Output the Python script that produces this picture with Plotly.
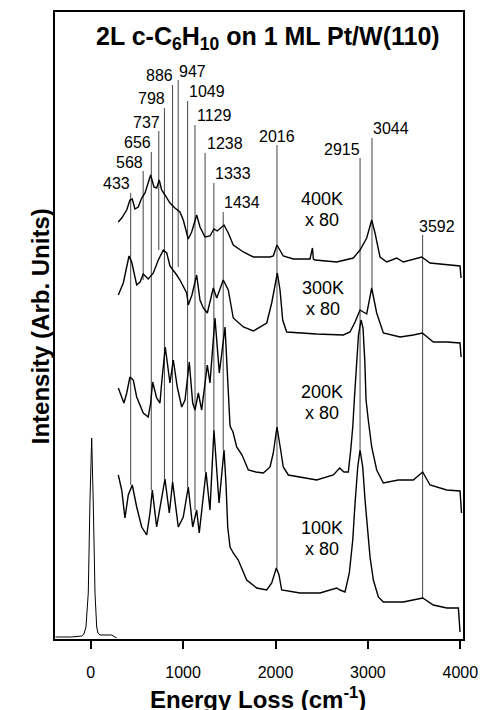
import plotly.graph_objects as go

# ---------------- data (energy loss in cm^-1, intensity in arb. units) ----------------
elastic_wn = [-380, -206, -97, -73, -51, -26, -8, 11, 28, 47, 65, 79, 101, 227, 281]
elastic_int = [1, 1, 2, 4, 11, 45, 135, 200, 135, 45, 11, 5, 3, 3, 0]

wn_400 = [299, 336, 390, 425, 450, 479, 515, 552, 588, 623, 649, 685, 714, 742, 768, 804, 858, 912, 966,
          1002, 1056, 1093, 1147, 1183, 1237, 1291, 1334, 1370, 1443, 1489, 1543, 1652, 1760, 1941, 1976,
          2016, 2084, 2193, 2373, 2400, 2410, 2428, 2662, 2842, 2915, 2987, 3041, 3077, 3131, 3204, 3312,
          3383, 3582, 3672, 3853, 3997, 4008]
int_400 = [416, 420, 428, 438, 439, 429, 431, 440, 445, 455, 463, 451, 450, 458, 448, 443, 435, 430, 426,
           418, 399, 406, 423, 411, 401, 402, 409, 407, 413, 405, 393, 386, 381, 381, 382,
           393, 382, 379, 379, 390, 379, 378, 376, 380, 388, 400, 418, 405, 381, 376, 380,
           376, 381, 375, 373, 372, 360]

wn_300 = [299, 353, 415, 444, 498, 534, 569, 623, 678, 732, 786, 823, 858, 894, 931, 966, 1039, 1056, 1096,
          1147, 1183, 1219, 1262, 1327, 1364, 1435, 1489, 1543, 1652, 1760, 1905, 1959, 1995, 2020, 2049,
          2078, 2121, 2265, 2446, 2734, 2806, 2861, 2915, 2950, 2987, 3041, 3095, 3167, 3348, 3492, 3589,
          3708, 3853, 3997, 4008]
int_300 = [343, 355, 382, 376, 353, 356, 364, 359, 365, 378, 388, 385, 372, 368, 363, 358, 345, 333, 343,
           363, 338, 330, 325, 350, 340, 358, 348, 320, 311, 307, 315, 335, 355, 365, 348,
           318, 306, 305, 304, 303, 306, 316, 328, 326, 324, 350, 325, 305, 301, 303, 305,
           296, 296, 295, 281]

wn_200 = [299, 360, 390, 425, 461, 498, 569, 623, 649, 671, 714, 750, 768, 807, 858, 894, 937, 985, 1021,
          1067, 1104, 1129, 1165, 1201, 1262, 1291, 1345, 1392, 1454, 1508, 1540, 1580, 1638, 1706, 1789,
          1868, 1905, 1941, 1976, 2016, 2056, 2084, 2139, 2446, 2626, 2695, 2741, 2788, 2814, 2836, 2853,
          2877, 2898, 2926, 2947, 2966, 2980, 3004, 3041, 3095, 3167, 3329, 3492, 3542, 3593, 3672, 3853,
          3997, 4013]
int_200 = [250, 235, 245, 261, 258, 241, 225, 221, 235, 256, 240, 235, 255, 291, 255, 278, 251, 231, 238,
           276, 235, 228, 245, 228, 273, 255, 320, 265, 311, 212, 206, 191, 183, 168, 166,
           165, 168, 171, 185, 211, 188, 171, 163, 158, 163, 170, 166, 166, 188, 211, 238,
           278, 303, 318, 310, 278, 238, 218, 191, 168, 155, 158, 158, 162, 166, 153, 148,
           147, 125]

wn_100 = [299, 336, 371, 407, 450, 498, 552, 606, 642, 667, 714, 768, 804, 851, 887, 948, 1002, 1056, 1104,
          1147, 1175, 1248, 1291, 1334, 1389, 1443, 1464, 1483, 1508, 1543, 1597, 1688, 1797, 1905, 1959,
          2009, 2038, 2067, 2265, 2482, 2662, 2698, 2752, 2799, 2836, 2861, 2890, 2915, 2944, 2969, 2994,
          3023, 3059, 3113, 3167, 3383, 3488, 3593, 3708, 3853, 3979, 3997]
int_100 = [163, 148, 120, 143, 153, 131, 111, 103, 125, 148, 111, 138, 159, 125, 156, 111, 121, 151, 111,
           128, 105, 166, 128, 208, 135, 188, 155, 111, 91, 85, 78, 58, 50, 48, 55,
           70, 63, 48, 45, 45, 50, 48, 46, 65, 98, 135, 171, 188, 171, 138, 111,
           81, 58, 41, 36, 36, 38, 40, 33, 30, 30, 6]

# peak assignment markers (cm^-1) and the vertical extent of each guide line
peak_wn = [433, 568, 656, 737, 798, 886, 947, 1049, 1129, 1238, 1333, 1434, 2016, 2915, 3044, 3592]
peak_top = [445, 467, 486, 507, 530, 553, 558, 537, 513, 485, 455, 426, 493, 480, 500, 403]
peak_bottom = [153, 358, 148, 388, 159, 156, 371, 151, 128, 166, 208, 188, 70, 188, 350, 40]
peak_labels = [str(v) for v in peak_wn]

temp_labels = ["400K", "300K", "200K", "100K"]
scale_label = "x 80"
x_ticks = [0, 1000, 2000, 3000, 4000]

# ---------------- layout positions for text ----------------
label_x = [281, 425, 504, 599, 660, 750, 1100, 1255, 1345, 1454, 1543, 1634, 2020, 2717, 3247, 3745]
label_y = [455, 476, 496, 516, 540, 563, 567, 547, 523, 495, 465, 436, 502, 489, 510, 412]
temp_x = [2500, 2517, 2500, 2500]
temp_y = [439, 350, 246, 110]
scale_y = [418, 329, 225, 89]

FONT = "Liberation Sans, Arial, Helvetica, sans-serif"

fig = go.Figure()

# guide lines
gx, gy = [], []
for w, t, b in zip(peak_wn, peak_top, peak_bottom):
    gx += [w, w, None]
    gy += [t, b, None]
fig.add_trace(go.Scatter(x=gx, y=gy, mode="lines", line=dict(color="#444444", width=1),
                         hoverinfo="skip", showlegend=False))

fig.add_trace(go.Scatter(x=elastic_wn, y=elastic_int, mode="lines",
                         line=dict(color="black", width=1), showlegend=False))
for wn, it in [(wn_400, int_400), (wn_300, int_300), (wn_200, int_200), (wn_100, int_100)]:
    fig.add_trace(go.Scatter(x=wn, y=it, mode="lines",
                             line=dict(color="black", width=1.4), showlegend=False))

ann = []
for t, x, y in zip(peak_labels, label_x, label_y):
    ann.append(dict(x=x, y=y, text=t, showarrow=False, font=dict(size=16, color="black", family=FONT)))
for t, x, y1, y2 in zip(temp_labels, temp_x, temp_y, scale_y):
    ann.append(dict(x=x, y=y1, text=t, showarrow=False, font=dict(size=18, color="black", family=FONT)))
    ann.append(dict(x=x, y=y2, text=scale_label, showarrow=False, font=dict(size=18, color="black", family=FONT)))

ann.append(dict(x=1924, y=600, text="<b>2L c-C<sub>6</sub>H<sub>10</sub> on 1 ML Pt/W(110)</b>",
                showarrow=False, font=dict(size=25, color="black", family=FONT)))
ann.append(dict(xref="paper", yref="paper", x=-0.0735, y=0.498, textangle=-90,
                text="<b>Intensity (Arb. Units)</b>", showarrow=False,
                font=dict(size=24, color="black", family=FONT)))
ann.append(dict(xref="paper", yref="paper", x=0.4975, y=-0.094, yanchor="middle",
                text="<b>Energy Loss (cm<sup>-1</sup>)</b>", showarrow=False,
                font=dict(size=24, color="black", family=FONT)))

fig.update_layout(
    width=481, height=710,
    margin=dict(l=55, r=18, t=12, b=71, autoexpand=False),
    paper_bgcolor="white", plot_bgcolor="white",
    annotations=ann,
    xaxis=dict(range=[-386, 4029], showgrid=False, zeroline=False, automargin=False,
               showline=True, linecolor="black", linewidth=2, mirror=True,
               ticks="outside", ticklen=8, tickwidth=2, tickcolor="black",
               tickvals=x_ticks, ticktext=[str(v) for v in x_ticks],
               tickfont=dict(size=16, color="black", family=FONT), ticklabelstandoff=10),
    yaxis=dict(range=[-1, 626], showgrid=False, zeroline=False, automargin=False,
               showline=True, linecolor="black", linewidth=2, mirror=True,
               showticklabels=False, ticks=""),
)

fig.write_html("out.html")
